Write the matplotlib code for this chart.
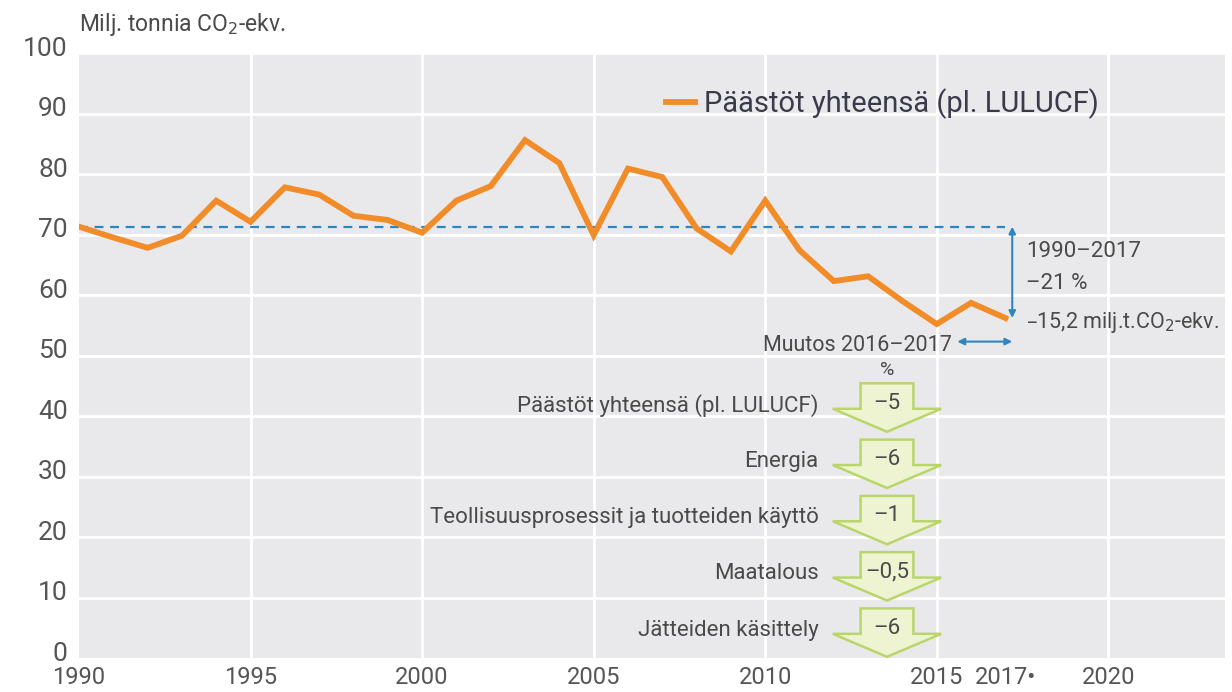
import matplotlib
matplotlib.use("Agg")
import matplotlib.pyplot as plt
import matplotlib.transforms as mtrans
from matplotlib.patches import Polygon
from matplotlib import font_manager

# ---- data ----
years = list(range(1990, 2018))
emissions = [71.3, 69.5, 67.8, 69.8, 75.6, 72.1, 77.8, 76.6, 73.1, 72.4,
             70.3, 75.6, 78.0, 85.6, 81.8, 69.9, 80.9, 79.5, 71.0, 67.2,
             75.6, 67.4, 62.3, 63.1, 59.0, 55.2, 58.7, 56.2]
base_level = emissions[0]
sectors = ["Päästöt yhteensä (pl. LULUCF)", "Energia",
           "Teollisuusprosessit ja tuotteiden käyttö", "Maatalous",
           "Jätteiden käsittely"]
changes = ["–5", "–6", "–1", "–0,5", "–6"]
grid_years = [1995, 2000, 2005, 2010, 2015, 2020]
tick_years = [1990, 1995, 2000, 2005, 2010, 2015, 2020]
y_ticks = list(range(0, 101, 10))

names = {f.name for f in font_manager.fontManager.ttflist}
fam = ['Liberation Sans Narrow', 'DejaVu Sans'] if 'Liberation Sans Narrow' in names else ['Roboto', 'DejaVu Sans']
plt.rcParams['font.family'] = fam

ORANGE = '#f28c28'
BLUE = '#2e86c1'
GRAY_TXT = '#4a4a4a'

fig = plt.figure(figsize=(12.32, 6.92), dpi=100)
ax = fig.add_axes([0.0641, 0.0491, 0.9302, 0.8743])
ax.set_facecolor('#e9e9eb')
for s in ax.spines.values():
    s.set_visible(False)

ax.set_xlim(1990, 2023.4)
ax.set_ylim(0, 100)

ax.set_yticks(y_ticks)
ax.set_yticklabels([str(v) for v in y_ticks], fontsize=19, color='#555555')
ax.set_xticks(tick_years)
ax.set_xticklabels([str(v) for v in tick_years], fontsize=17, color='#555555')
ax.set_xticks([2017], minor=True)
ax.set_xticklabels(['2017•'], minor=True, fontsize=17, color='#555555')
ax.tick_params(which='both', length=0, pad=6)
ax.tick_params(axis='y', pad=8)
up = mtrans.ScaledTranslation(0, 7 / 100, fig.dpi_scale_trans)
for lab in ax.get_yticklabels():
    lab.set_transform(lab.get_transform() + up)

for v in y_ticks[1:]:
    ax.axhline(v, color='white', lw=2, zorder=1)
for gx in grid_years:
    ax.axvline(gx, color='white', lw=2, zorder=1)

# baseline dashed
ax.plot([years[0], years[-1]], [base_level, base_level], ls=(0, (4, 3)),
        color=BLUE, lw=1.6, zorder=2)

ax.plot(years, emissions, color=ORANGE, lw=4.2, zorder=3,
        solid_joinstyle='miter', label='Päästöt yhteensä (pl. LULUCF)')

leg = ax.legend(loc='upper right', bbox_to_anchor=(0.913, 0.985), frameon=False,
                fontsize=21, handlelength=1.0, handletextpad=0.3)
for t in leg.get_texts():
    t.set_color('#3a3a4a')

# y label
fig.text(0.0641, 0.965, 'Milj. tonnia CO$_2$-ekv.', fontsize=16.5, color=GRAY_TXT,
         ha='left', va='center')

# vertical double arrow 1990-2017
ax.annotate('', xy=(2017.2, emissions[-1]), xytext=(2017.2, base_level),
            arrowprops=dict(arrowstyle='<|-|>', color=BLUE, lw=1.5,
                            mutation_scale=10, shrinkA=0, shrinkB=0))
ax.text(2017.6, 67.2, '1990–2017', fontsize=16, color=GRAY_TXT, va='center')
ax.text(2017.6, 61.9, '–21 %', fontsize=16, color=GRAY_TXT, va='center')
ax.text(2017.6, 55.4, '–15,2 milj.t.CO$_2$-ekv.', fontsize=15.5, color=GRAY_TXT, va='center')

# change 2016-2017
ax.text(2015.45, 51.6, 'Muutos 2016–2017', fontsize=15.5, color=GRAY_TXT,
        ha='right', va='center')
ax.annotate('', xy=(2017.2, 52.3), xytext=(2015.6, 52.3),
            arrowprops=dict(arrowstyle='<|-|>', color=BLUE, lw=1.5,
                            mutation_scale=10, shrinkA=0, shrinkB=0))
ax.text(2013.55, 47.6, '%', fontsize=14, color=GRAY_TXT, ha='center', va='center')

cx = 2013.55
bw, hw = 0.77, 1.58
for i, (lab, ch) in enumerate(zip(sectors, changes)):
    yc = 41.8 - i * 9.3
    top, base, tip = yc + 3.6, yc - 0.6, yc - 4.4
    poly = Polygon([(cx - bw, top), (cx + bw, top), (cx + bw, base), (cx + hw, base),
                    (cx, tip), (cx - hw, base), (cx - bw, base)], closed=True,
                   facecolor='#eef4d2', edgecolor='#b9d56b', lw=1.8, zorder=4)
    ax.add_patch(poly)
    ax.text(cx, yc + 0.3, ch, fontsize=16, color=GRAY_TXT, ha='center', va='center', zorder=5)
    ax.text(2011.55, yc, lab, fontsize=16, color=GRAY_TXT, ha='right', va='center', zorder=5)

fig.savefig('out.png', dpi=100)
